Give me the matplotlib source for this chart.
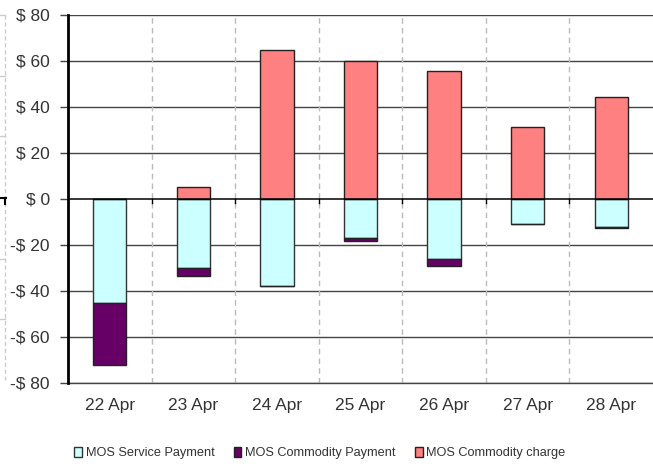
import matplotlib
matplotlib.use("Agg")
import matplotlib.pyplot as plt
from matplotlib.patches import Patch
from matplotlib.lines import Line2D

plt.rcParams['font.family'] = ['Liberation Sans', 'DejaVu Sans']

categories = ["22 Apr", "23 Apr", "24 Apr", "25 Apr", "26 Apr", "27 Apr", "28 Apr"]
service_payment = [-45.3, -30.1, -37.9, -16.8, -26.3, -10.8, -12.0]
commodity_payment = [-26.7, -3.2, 0.0, -1.6, -2.9, 0.0, -0.7]
commodity_charge = [0.0, 5.1, 64.9, 60.0, 55.8, 31.4, 44.4]
yticks = [-80, -60, -40, -20, 0, 20, 40, 60, 80]
ytick_labels = ["-$ 80", "-$ 60", "-$ 40", "-$ 20", "$ 0", "$ 20", "$ 40", "$ 60", "$ 80"]

c_service = "#CCFFFF"
c_cpay = "#660066"
c_charge = "#FF8080"

fig = plt.figure(figsize=(6.53, 4.66), dpi=100)
ax = fig.add_axes([68/653, 1 - 383/466, 1 - 68/653, (383 - 15)/466])

x = list(range(len(categories)))
w = 0.4
ax.bar(x, service_payment, width=w, color=c_service, edgecolor="#333333", linewidth=1, zorder=3)
ax.bar(x, commodity_payment, width=w, bottom=service_payment, color=c_cpay, edgecolor="#222222", linewidth=1, zorder=3)
ax.bar(x, commodity_charge, width=w, color=c_charge, edgecolor="#222222", linewidth=1, zorder=3)

ax.set_xlim(-0.5, len(categories) - 0.5)
ax.set_ylim(-80, 80)

# horizontal gridlines
for yv in yticks:
    if yv == 0:
        continue
    ax.axhline(yv, color="#444444", linewidth=1, zorder=1)
ax.axhline(0, color="black", linewidth=1.1, zorder=4)
# vertical dashed gridlines at category boundaries
for b in [i + 0.5 for i in x[:-1]]:
    ax.axvline(b, color="#BBBBBB", linewidth=1, linestyle=(0, (4, 3)), zorder=1)
    ax.plot([b, b], [0, -1.8], color="black", linewidth=1, zorder=4)

ax.set_yticks(yticks)
ax.set_yticklabels(ytick_labels, fontsize=12.5, color="#333333")
ax.set_xticks(x)
ax.set_xticklabels(categories, fontsize=12.5, color="#333333")
ax.tick_params(axis="y", length=6, width=1, color="#444444", pad=7)
ax.tick_params(axis="x", length=0, pad=11)

for s in ["top", "right"]:
    ax.spines[s].set_visible(False)
ax.spines["left"].set_color("black")
ax.spines["left"].set_linewidth(2)
ax.spines["left"].set_zorder(5)
ax.spines["bottom"].set_color("#444444")
ax.spines["bottom"].set_linewidth(1)

handles = [
    Patch(facecolor=c_service, edgecolor="#333333", linewidth=1, label="MOS Service Payment"),
    Patch(facecolor=c_cpay, edgecolor="#222222", linewidth=1, label="MOS Commodity Payment"),
    Patch(facecolor=c_charge, edgecolor="#222222", linewidth=1, label="MOS Commodity charge"),
]
fig.legend(handles=handles, loc="center", bbox_to_anchor=(320/653, 1 - 453/466), ncol=3,
           frameon=False, fontsize=9.2, handlelength=0.6, handleheight=0.85,
           handletextpad=0.3, columnspacing=1.5, labelcolor="#333333")

# cropped-edge artifacts at far left
fig.add_artist(Line2D([5/653, 5/653], [1 - 15/466, 1 - 380/466], color="#CCCCCC",
                      linewidth=1, linestyle=(0, (3, 2))))
for py in [15, 76, 136, 259, 319]:
    fig.add_artist(Line2D([0, 5/653], [1 - py/466, 1 - py/466], color="#CCCCCC", linewidth=1))
fig.add_artist(Line2D([0, 6/653], [1 - 198/466, 1 - 198/466], color="black", linewidth=1.5))
fig.add_artist(Line2D([5/653, 5/653], [1 - 198/466, 1 - 204/466], color="black", linewidth=1.5))

fig.savefig("out.png", dpi=100)
